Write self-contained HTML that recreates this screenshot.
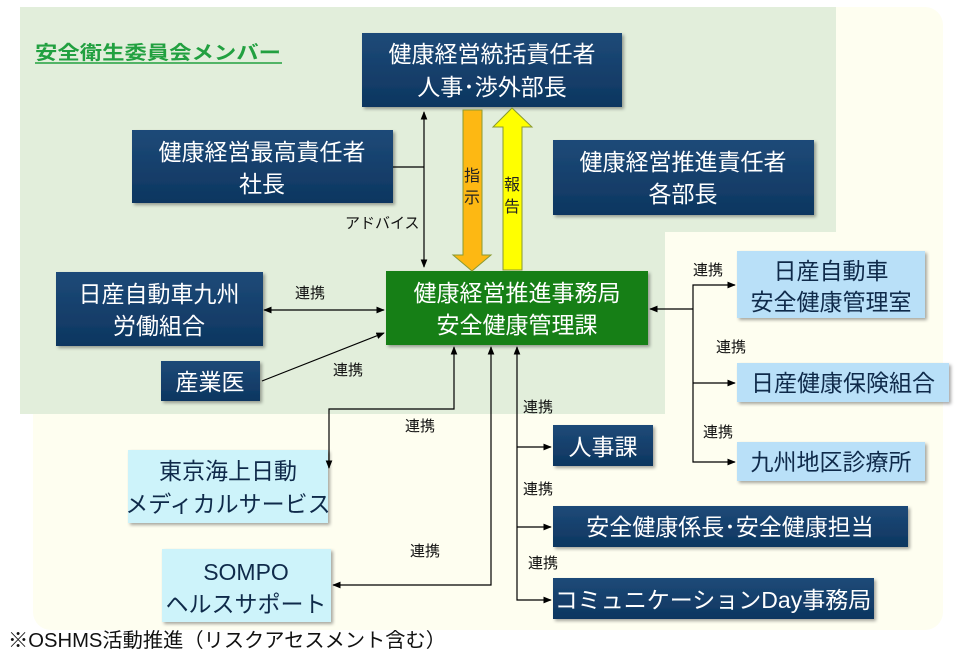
<!DOCTYPE html>
<html><head><meta charset="utf-8"><style>
html,body{margin:0;padding:0;background:#fff;}
svg text{font-family:"Liberation Sans","Noto Sans CJK JP",sans-serif;}
</style></head><body>
<svg width="960" height="657" viewBox="0 0 960 657" xmlns="http://www.w3.org/2000/svg">
<defs>
<linearGradient id="nv" x1="0" y1="0" x2="0" y2="1"><stop offset="0" stop-color="#1e4a78"/><stop offset="1" stop-color="#0d3660"/></linearGradient>
<marker id="a" viewBox="0 0 10 10" refX="9" refY="5" markerWidth="7" markerHeight="7" orient="auto-start-reverse"><path d="M0,1 L10,5 L0,9 z" fill="#000"/></marker>
<filter id="sh"><feDropShadow dx="2" dy="2" stdDeviation="1.5" flood-opacity="0.35"/></filter>
</defs>
<rect x="33" y="7" width="910" height="623" rx="18" fill="#fefef0"/>
<path d="M20,7 H836 V232 H665 V414 H20 Z" fill="#e2eedb"/>
<text x="35" y="59" font-size="19" font-weight="bold" fill="#22a040" textLength="246" lengthAdjust="spacingAndGlyphs">安全衛生委員会メンバー</text>
<line x1="35" y1="63" x2="282" y2="63" stroke="#22a040" stroke-width="1.5"/>
<g filter="url(#sh)">
<rect x="362" y="33" width="260" height="74" fill="url(#nv)"/>
<rect x="132" y="130" width="261" height="73" fill="url(#nv)"/>
<rect x="553" y="140" width="261" height="75" fill="url(#nv)"/>
<rect x="56" y="272" width="207" height="74" fill="url(#nv)"/>
<rect x="161" y="361" width="99" height="40" fill="url(#nv)"/>
<rect x="386" y="271" width="262" height="74" fill="#127f12"/>
<rect x="737" y="251" width="188" height="67" fill="#b9e0f8"/>
<rect x="737" y="363" width="212" height="39" fill="#b9e0f8"/>
<rect x="737" y="442" width="188" height="39" fill="#b9e0f8"/>
<rect x="553" y="425" width="100" height="41" fill="url(#nv)"/>
<rect x="553" y="506" width="355" height="41" fill="url(#nv)"/>
<rect x="553" y="578" width="321" height="41" fill="url(#nv)"/>
<rect x="128" y="450" width="200" height="73" fill="#cdf3fa"/>
<rect x="162" y="549" width="169" height="73" fill="#cdf3fa"/>
</g>
<g font-size="23" fill="#fff" text-anchor="middle">
<text x="492" y="62">健康経営統括責任者</text><text x="492" y="95">人事･渉外部長</text>
<text x="262" y="160">健康経営最高責任者</text><text x="262" y="192">社長</text>
<text x="683" y="170">健康経営推進責任者</text><text x="683" y="202">各部長</text>
<text x="159" y="302">日産自動車九州</text><text x="159" y="334">労働組合</text>
<text x="210" y="390">産業医</text>
<text x="517" y="301">健康経営推進事務局</text><text x="517" y="333">安全健康管理課</text>
<text x="603" y="455">人事課</text>
<text x="730" y="535">安全健康係長･安全健康担当</text>
<text x="713" y="608">コミュニケーションDay事務局</text>
</g>
<g font-size="23" fill="#0f2a4a" text-anchor="middle">
<text x="831" y="279">日産自動車</text><text x="831" y="310">安全健康管理室</text>
<text x="843" y="391">日産健康保険組合</text>
<text x="831" y="470">九州地区診療所</text>
<text x="228" y="479">東京海上日動</text><text x="228" y="512">メディカルサービス</text>
<text x="246" y="580">SOMPO</text><text x="246" y="612">ヘルスサポート</text>
</g>
<path d="M463,110 H482 V255 H491 L472,271 L453,255 H463 Z" fill="#fdb813" stroke="#8a9a30" stroke-width="1"/>
<path d="M503,270 V127 H493 L512,108 L532,127 H522 V270 Z" fill="#ffff00" stroke="#8a9a30" stroke-width="1"/>
<g font-size="16" fill="#222"><text x="464" y="181">指</text><text x="464" y="203">示</text><text x="504" y="190">報</text><text x="504" y="212">告</text></g>
<g stroke="#000" stroke-width="1.2" fill="none">
<line x1="424" y1="112" x2="424" y2="267" marker-start="url(#a)" marker-end="url(#a)"/>
<line x1="393" y1="167" x2="424" y2="167"/>
<line x1="264" y1="310" x2="384" y2="310" marker-start="url(#a)" marker-end="url(#a)"/>
<line x1="262" y1="381" x2="384" y2="333" marker-end="url(#a)"/>
<polyline points="329,468 329,409 454,409 454,347" marker-start="url(#a)" marker-end="url(#a)"/>
<polyline points="333,585 491,585 491,347" marker-start="url(#a)" marker-end="url(#a)"/>
<polyline points="517,347 517,600 551,600" marker-start="url(#a)" marker-end="url(#a)"/>
<line x1="517" y1="447" x2="551" y2="447" marker-end="url(#a)"/>
<line x1="517" y1="527" x2="551" y2="527" marker-end="url(#a)"/>
<line x1="693" y1="309" x2="650" y2="309" marker-end="url(#a)"/>
<polyline points="735,285 693,285 693,462 735,462" marker-start="url(#a)" marker-end="url(#a)"/>
<line x1="693" y1="383" x2="735" y2="383" marker-end="url(#a)"/>
</g>
<g font-size="15" fill="#111">
<text x="345" y="228">アドバイス</text>
<text x="295" y="298">連携</text>
<text x="333" y="375">連携</text>
<text x="405" y="431">連携</text>
<text x="410" y="556">連携</text>
<text x="523" y="412">連携</text>
<text x="523" y="494">連携</text>
<text x="528" y="568">連携</text>
<text x="693" y="275">連携</text>
<text x="716" y="352">連携</text>
<text x="703" y="437">連携</text>
</g>
<text x="8" y="647" font-size="20" fill="#111" textLength="438" lengthAdjust="spacingAndGlyphs">※OSHMS活動推進（リスクアセスメント含む）</text>
</svg>
</body></html>
